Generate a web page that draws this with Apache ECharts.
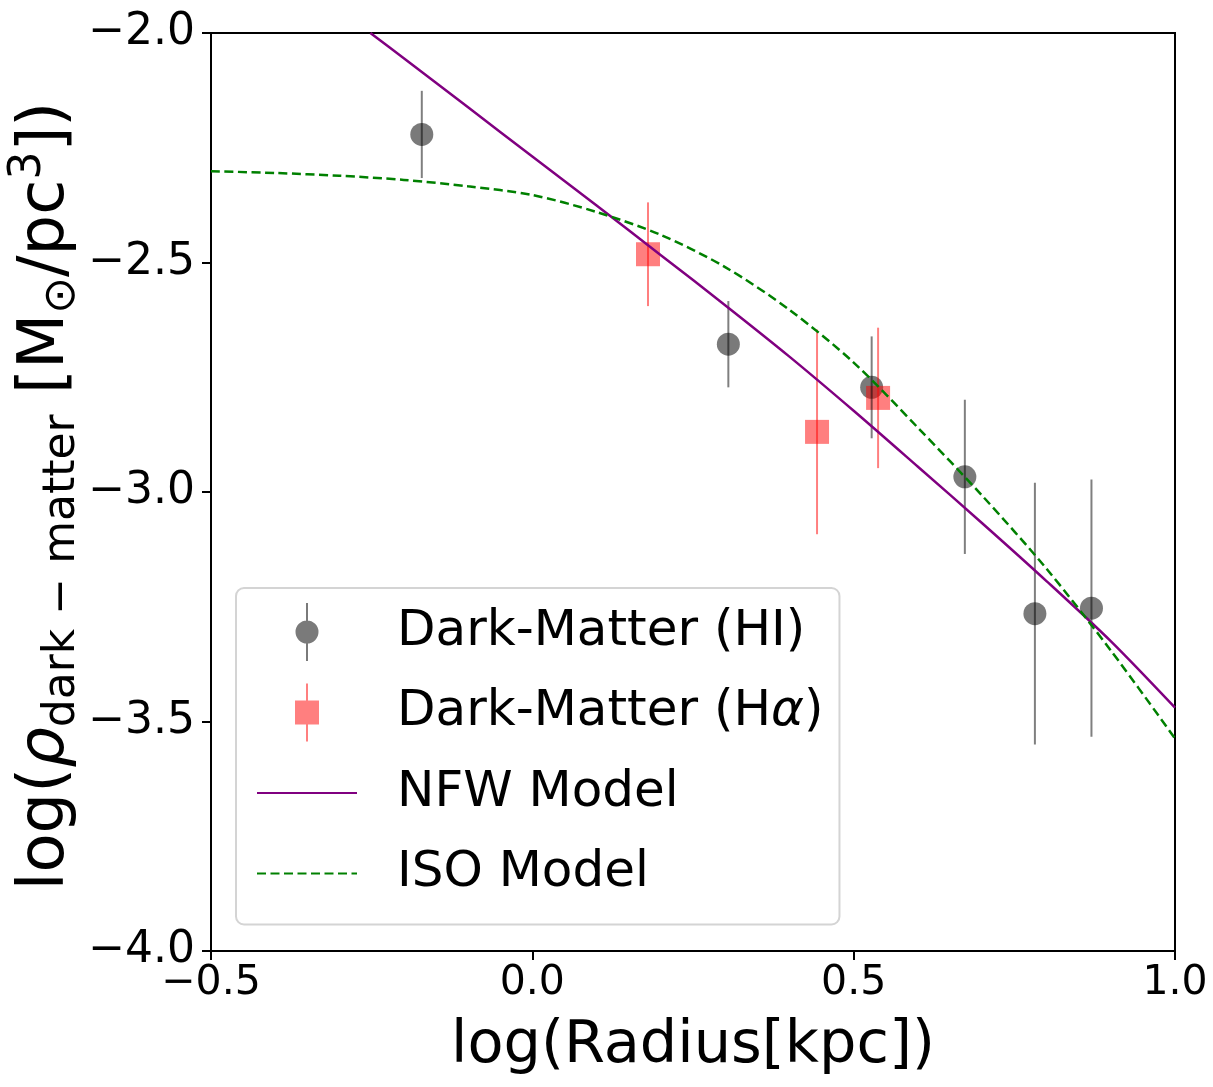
<!DOCTYPE html>
<html>
<head>
<meta charset="utf-8">
<script src="https://cdn.jsdelivr.net/npm/echarts@6/dist/echarts.min.js"></script>
<style>
html,body{margin:0;padding:0;background:#fff;}
#chart{width:1213px;height:1087px;}
</style>
</head>
<body>
<div id="chart"></div>
<script>
// ---- data ----
const hiX   = [-0.172, 0.305, 0.528, 0.673, 0.782, 0.870];
const hiY   = [-2.221, -2.678, -2.772, -2.967, -3.265, -3.253];
const hiErr = [0.095, 0.094, 0.111, 0.168, 0.285, 0.280];

const haX   = [0.180, 0.443, 0.538];
const haY   = [-2.482, -2.869, -2.795];
const haErr = [0.113, 0.223, 0.153];

const nfwX = [-0.252, -0.2, -0.1, 0.0, 0.1, 0.2, 0.3, 0.4, 0.5, 0.6, 0.7, 0.8, 0.9, 1.0];
const nfwY = [-2.000, -2.055, -2.162, -2.269, -2.376, -2.484, -2.593, -2.705, -2.823, -2.945, -3.068, -3.194, -3.325, -3.470];

const isoX = [-0.5, -0.4, -0.3, -0.2, -0.1, 0.0, 0.1, 0.2, 0.3, 0.4, 0.5, 0.6, 0.7, 0.8, 0.9, 1.0];
const isoY = [-2.301, -2.305, -2.311, -2.320, -2.334, -2.353, -2.390, -2.440, -2.510, -2.603, -2.718, -2.860, -3.008, -3.167, -3.345, -3.537];

const xTicks = { min: -0.5, max: 1.0, interval: 0.5 };
const yTicks = { min: -4.0, max: -2.0, interval: 0.5 };

const names = ['Dark-Matter (HI)', 'Dark-Matter (H\u03b1)', 'NFW Model', 'ISO Model'];

// ---- build ----
const FONT = 'DejaVu Sans';
const zip = (a, b) => a.map((v, i) => [v, b[i]]);
const zip3 = (a, b, c) => a.map((v, i) => [v, b[i], c[i]]);
const fmt = v => v.toFixed(1).replace('-', '\u2212');

function errRender(color) {
  return function (params, api) {
    const x = api.value(0), y = api.value(1), e = api.value(2);
    const p1 = api.coord([x, y - e]);
    const p2 = api.coord([x, y + e]);
    return {
      type: 'line',
      shape: { x1: p1[0], y1: p1[1], x2: p2[0], y2: p2[1] },
      style: { stroke: color, lineWidth: 2 }
    };
  };
}

const hiIcon = 'path://M0,29L100,29L0,29Z M49,0L51,0L51,58L49,58Z M38.5,29A11.5,11.5,0,1,1,61.5,29A11.5,11.5,0,1,1,38.5,29Z';
const haIcon = 'path://M0,29L100,29L0,29Z M49,0L51,0L51,58L49,58Z M38,17L62,17L62,41L38,41Z';
const hideSym = { color: 'rgba(0,0,0,0)', opacity: 0, borderWidth: 0 };

const chart = echarts.init(document.getElementById('chart'), null, { renderer: 'canvas' });
chart.setOption({
  animation: false,
  backgroundColor: '#fff',
  textStyle: { fontFamily: FONT },
  grid: {
    left: 211, top: 33, right: 38, bottom: 136,
    show: true, borderColor: '#000', borderWidth: 2,
    containLabel: false, outerBoundsMode: 'none'
  },
  xAxis: {
    type: 'value', min: xTicks.min, max: xTicks.max, interval: xTicks.interval,
    name: 'log(Radius[kpc])', nameLocation: 'middle', nameGap: 66,
    nameTextStyle: { fontSize: 59, fontFamily: FONT, color: '#000' },
    axisLine: { show: true, onZero: false, lineStyle: { color: '#000', width: 2 } },
    axisTick: { show: true, length: 9, lineStyle: { color: '#000', width: 2 } },
    axisLabel: { show: true, fontSize: 41, fontFamily: FONT, color: '#000', margin: 12,
      formatter: fmt, showMinLabel: true, showMaxLabel: true },
    splitLine: { show: false }
  },
  yAxis: {
    type: 'value', min: yTicks.min, max: yTicks.max, interval: yTicks.interval,
    axisLine: { show: true, onZero: false, lineStyle: { color: '#000', width: 2 } },
    axisTick: { show: true, length: 9, lineStyle: { color: '#000', width: 2 } },
    axisLabel: { show: true, fontSize: 44, fontFamily: FONT, color: '#000', margin: 16,
      formatter: fmt, showMinLabel: true, showMaxLabel: true },
    splitLine: { show: false }
  },
  legend: {
    orient: 'vertical', left: 236, top: 588,
    padding: [11, 16, 18, 20],
    itemWidth: 100, itemHeight: 58, itemGap: 14.5,
    backgroundColor: 'rgba(255,255,255,0.8)',
    borderColor: '#d4d4d4', borderWidth: 2, borderRadius: 8,
    selectedMode: false,
    textStyle: { fontSize: 50, lineHeight: 66, fontFamily: FONT, color: '#000', padding: [0, 0, 0, 35],
      rich: { i: { fontSize: 50, lineHeight: 66, fontFamily: FONT, fontStyle: 'italic', color: '#000' } } },
    formatter: n => n === names[1] ? 'Dark-Matter (H{i|\u03b1})' : n,
    data: [
      { name: names[0], icon: hiIcon },
      { name: names[1], icon: haIcon },
      { name: names[2], itemStyle: hideSym },
      { name: names[3], itemStyle: hideSym }
    ]
  },
  graphic: [{
    type: 'text', x: 46, y: 496, rotation: Math.PI / 2, silent: true,
    style: {
      text: 'log({r|\u03c1}{s|dark \u2212 matter} [M{s|\u2299}/pc{u|3}])',
      fontSize: 64, fontFamily: FONT, fill: '#000',
      align: 'center', verticalAlign: 'middle',
      rich: {
        r: { fontSize: 64, fontFamily: FONT, fontStyle: 'italic', fill: '#000' },
        s: { fontSize: 44, fontFamily: FONT, fill: '#000', padding: [34, 0, 0, 0] },
        u: { fontSize: 44, fontFamily: FONT, fill: '#000', padding: [0, 0, 34, 0] }
      }
    }
  }],
  series: [
    { name: names[0] + ' err', type: 'custom', renderItem: errRender('rgba(0,0,0,0.5)'),
      data: zip3(hiX, hiY, hiErr), z: 3, silent: true },
    { name: names[0], type: 'scatter', symbol: 'circle', symbolSize: 23,
      itemStyle: { color: 'rgba(0,0,0,0.52)', opacity: 1 }, data: zip(hiX, hiY), z: 2 },
    { name: names[1] + ' err', type: 'custom', renderItem: errRender('rgba(255,0,0,0.5)'),
      data: zip3(haX, haY, haErr), z: 3, silent: true },
    { name: names[1], type: 'scatter', symbol: 'rect', symbolSize: 24,
      itemStyle: { color: 'rgba(255,0,0,0.5)', opacity: 1 }, data: zip(haX, haY), z: 2 },
    { name: names[2], type: 'line', data: zip(nfwX, nfwY), symbol: 'none', showSymbol: false,
      smooth: 0.3, clip: true, z: 4,
      lineStyle: { color: '#800080', width: 2.5 }, itemStyle: { color: '#800080' } },
    { name: names[3], type: 'line', data: zip(isoX, isoY), symbol: 'none', showSymbol: false,
      smooth: 0.3, clip: true, z: 4,
      lineStyle: { color: '#008000', width: 2.5, type: [9, 4.5] }, itemStyle: { color: '#008000' } }
  ]
});
</script>
</body>
</html>
